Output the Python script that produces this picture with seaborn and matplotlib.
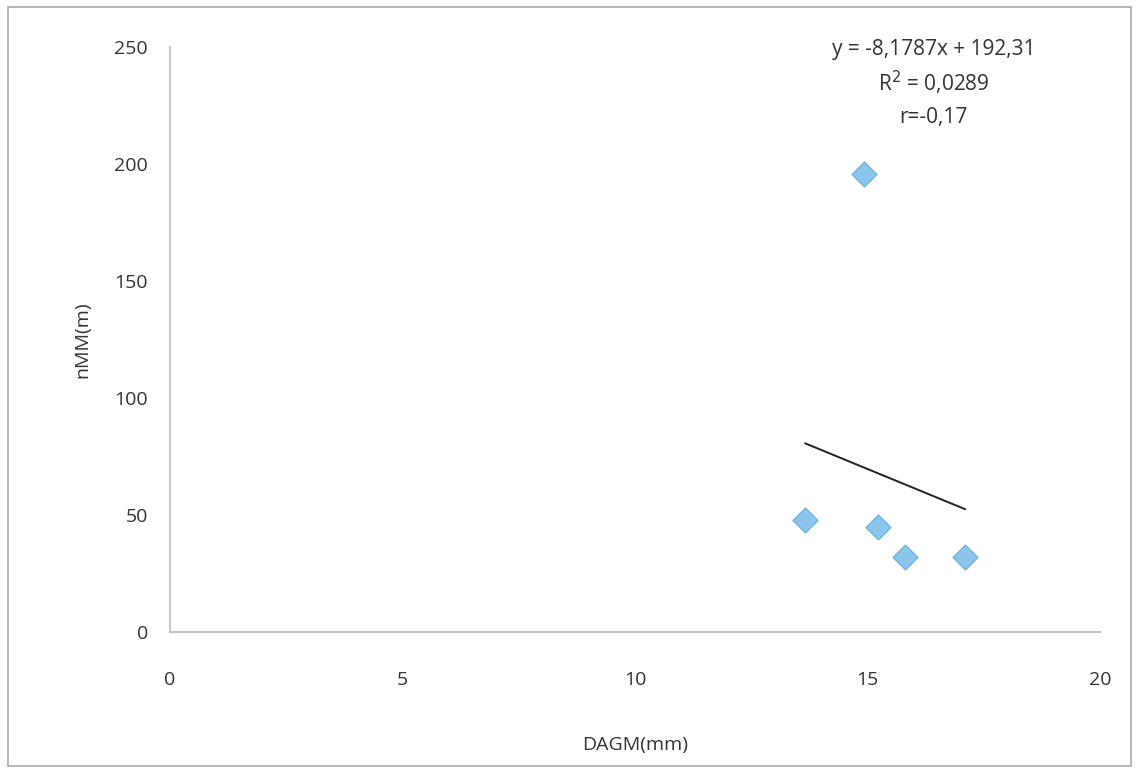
import matplotlib
matplotlib.use("Agg")
import matplotlib.pyplot as plt
import seaborn as sns
import numpy as np
import pandas as pd
from matplotlib.patches import Rectangle

# Measured values
dagm_mm = [13.66, 14.92, 15.23, 15.80, 17.10]
nmm_m = [47.9, 195.7, 44.9, 32.0, 32.0]

# Linear trend stated on the chart
slope = -8.1787
intercept = 192.31
r_squared = "0,0289"
r_value = "-0,17"

x_ticks = [0, 5, 10, 15, 20]
y_ticks = [0, 50, 100, 150, 200, 250]

sns.set_theme(style="white")
plt.rcParams["font.family"] = ["Open Sans", "DejaVu Sans"]

df = pd.DataFrame({"DAGM(mm)": dagm_mm, "nMM(m)": nmm_m})

fig = plt.figure(figsize=(11.37, 7.71), dpi=100)
ax = fig.add_axes([0.1495, 0.1803, 0.818, 0.759])

sns.scatterplot(data=df, x="DAGM(mm)", y="nMM(m)", marker="D", s=160,
                color="#8ac6ec", edgecolor="#72b4e0", linewidth=1.0, ax=ax, zorder=3)

xs = np.array([min(dagm_mm), max(dagm_mm)])
sns.lineplot(x=xs, y=slope * xs + intercept, color="#222222", linewidth=1.4, ax=ax)

ax.set_xlim(0, 20)
ax.set_ylim(0, 250)
ax.set_xticks(x_ticks)
ax.set_yticks(y_ticks)
ax.tick_params(axis="both", length=0, labelsize=14, labelcolor="#333333")
ax.tick_params(axis="x", pad=28)
ax.tick_params(axis="y", pad=16)

for side in ["top", "right"]:
    ax.spines[side].set_visible(False)
for side in ["left", "bottom"]:
    ax.spines[side].set_color("#c4c4c4")
    ax.spines[side].set_linewidth(1.5)

ax.set_xlabel("DAGM(mm)", fontsize=14, color="#333333", labelpad=34)
ax.set_ylabel("nMM(m)", fontsize=14, color="#333333", labelpad=16)

ax.text(0.821, 0.995, f"y = {slope:.4f}x + {intercept:.2f}".replace(".", ","),
        transform=ax.transAxes, ha="center", va="center", fontsize=15, color="#333333")
ax.text(0.821, 0.938, f"R$^2$ = {r_squared}", transform=ax.transAxes,
        ha="center", va="center", fontsize=15, color="#333333")
ax.text(0.821, 0.88, f"r={r_value}", transform=ax.transAxes,
        ha="center", va="center", fontsize=15, color="#333333")

fig.patches.append(Rectangle((0.007, 0.006), 0.988, 0.985, transform=fig.transFigure,
                             fill=False, edgecolor="#aaaaaa", linewidth=1.2))

fig.savefig("out.png", dpi=100, facecolor="white")
